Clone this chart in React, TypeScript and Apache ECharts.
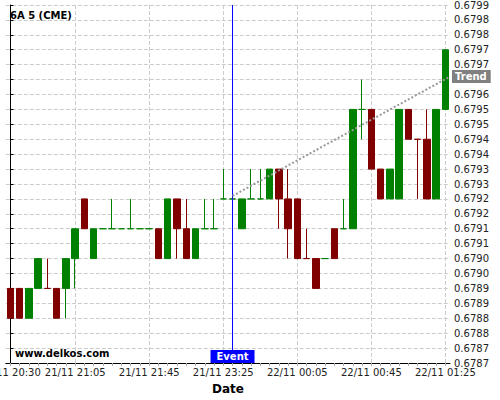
import React, { useEffect, useRef } from "react";
import * as echarts from "echarts";

const categories = [
  "21/11 20:30", "21/11 20:35", "21/11 20:40", "21/11 20:45", "21/11 20:50", "21/11 20:55",
  "21/11 21:00", "21/11 21:05", "21/11 21:10", "21/11 21:15", "21/11 21:20", "21/11 21:25",
  "21/11 21:30", "21/11 21:35", "21/11 21:40", "21/11 21:45", "21/11 21:50", "21/11 21:55",
  "21/11 23:00", "21/11 23:05", "21/11 23:10", "21/11 23:15", "21/11 23:20", "21/11 23:25",
  "21/11 23:30", "21/11 23:35", "21/11 23:40", "21/11 23:45", "21/11 23:50", "21/11 23:55",
  "22/11 00:00", "22/11 00:05", "22/11 00:10", "22/11 00:15", "22/11 00:20", "22/11 00:25",
  "22/11 00:30", "22/11 00:35", "22/11 00:40", "22/11 00:45", "22/11 00:50", "22/11 00:55",
  "22/11 01:00", "22/11 01:05", "22/11 01:10", "22/11 01:15", "22/11 01:20", "22/11 01:25",
];

// [open, close, low, high]
const candles: number[][] = [
  [0.67895, 0.67885, 0.67885, 0.67895],
  [0.67895, 0.67885, 0.67885, 0.67895],
  [0.67885, 0.67895, 0.67885, 0.67895],
  [0.67895, 0.67905, 0.67895, 0.67905],
  [0.67895, 0.67895, 0.67895, 0.67905],
  [0.67895, 0.67885, 0.67885, 0.67895],
  [0.67895, 0.67905, 0.67885, 0.67905],
  [0.67905, 0.67915, 0.67895, 0.67915],
  [0.67925, 0.67915, 0.67915, 0.67925],
  [0.67905, 0.67915, 0.67905, 0.67915],
  [0.67915, 0.67915, 0.67915, 0.67915],
  [0.67915, 0.67915, 0.67915, 0.67925],
  [0.67915, 0.67915, 0.67915, 0.67915],
  [0.67915, 0.67915, 0.67915, 0.67925],
  [0.67915, 0.67915, 0.67915, 0.67915],
  [0.67915, 0.67915, 0.67915, 0.67915],
  [0.67915, 0.67905, 0.67905, 0.67915],
  [0.67905, 0.67925, 0.67905, 0.67925],
  [0.67925, 0.67915, 0.67905, 0.67925],
  [0.67915, 0.67905, 0.67905, 0.67925],
  [0.67905, 0.67915, 0.67905, 0.67915],
  [0.67915, 0.67915, 0.67915, 0.67925],
  [0.67915, 0.67915, 0.67915, 0.67925],
  [0.67925, 0.67925, 0.67925, 0.67935],
  [0.67925, 0.67925, 0.67925, 0.67925],
  [0.67915, 0.67925, 0.67915, 0.67925],
  [0.67925, 0.67925, 0.67925, 0.67935],
  [0.67925, 0.67925, 0.67925, 0.67935],
  [0.67925, 0.67935, 0.67925, 0.67935],
  [0.67935, 0.67925, 0.67915, 0.67935],
  [0.67925, 0.67915, 0.67905, 0.67935],
  [0.67925, 0.67905, 0.67905, 0.67925],
  [0.67905, 0.67905, 0.67905, 0.67915],
  [0.67905, 0.67895, 0.67895, 0.67905],
  [0.67905, 0.67905, 0.67905, 0.67905],
  [0.67915, 0.67905, 0.67905, 0.67915],
  [0.67915, 0.67915, 0.67915, 0.67925],
  [0.67915, 0.67955, 0.67915, 0.67955],
  [0.67955, 0.67955, 0.67945, 0.67965],
  [0.67955, 0.67935, 0.67935, 0.67955],
  [0.67935, 0.67925, 0.67925, 0.67935],
  [0.67925, 0.67935, 0.67925, 0.67935],
  [0.67925, 0.67955, 0.67925, 0.67955],
  [0.67955, 0.67945, 0.67945, 0.67955],
  [0.67945, 0.67945, 0.67925, 0.67945],
  [0.67945, 0.67925, 0.67925, 0.67955],
  [0.67925, 0.67955, 0.67925, 0.67955],
  [0.67955, 0.67975, 0.67955, 0.67975],
];

// doji candles drawn as falling
const dojiDown = [32, 44];

const eventIndex = 24;
// trend line: [category position, price]
const trendPoints: number[][] = [
  [24, 0.67926],
  [47.5, 0.67966],
];

const yMin = 0.6787;
const yMax = 0.6799;
const yStep = 0.00005;

const UP = "#008000";
const DOWN = "#800000";
const BLUE = "#0000ff";
const FONT = "DejaVu Sans";

const labelShown = (i: number) => i === 0 || (i - 7) % 8 === 0;

export default function App() {
  const ref = useRef<HTMLDivElement>(null);
  useEffect(() => {
    if (!ref.current) return;
    const chart = echarts.init(ref.current, null, { renderer: "svg" });
    const data = candles.map((c, i) =>
      dojiDown.includes(i)
        ? { value: c, itemStyle: { color: DOWN, color0: DOWN, borderColor: DOWN, borderColor0: DOWN } }
        : c
    );
    chart.setOption({
      animation: false,
      textStyle: { fontFamily: FONT },
      grid: { left: 5.8, right: 50, top: 5, bottom: 37, containLabel: false, outerBoundsMode: "none" },
      graphic: [
        {
          type: "text",
          left: 10,
          top: 10,
          style: { text: "6A 5 (CME)", font: `bold 10px '${FONT}'`, fill: "#000" },
          z: 10,
        },
        {
          type: "text",
          left: 15,
          top: 348,
          style: { text: "www.delkos.com", font: `bold 10px '${FONT}'`, fill: "#000" },
          z: 10,
        },
      ],
      xAxis: [
        {
          type: "category",
          data: categories,
          boundaryGap: true,
          name: "Date",
          nameLocation: "middle",
          nameGap: 20,
          nameTextStyle: { fontFamily: FONT, fontSize: 12, fontWeight: "bold", color: "#000" },
          axisLine: { lineStyle: { color: "#000", width: 1 } },
          axisTick: { show: true, interval: 0, alignWithLabel: true, length: 3, lineStyle: { color: "#aaa" } },
          axisLabel: {
            interval: (i: number) => labelShown(i),
            fontFamily: FONT,
            fontSize: 10,
            color: "#222",
            margin: 4,
            hideOverlap: false,
          },
          splitLine: {
            show: true,
            interval: (i: number) => labelShown(i),
            alignWithLabel: true,
            lineStyle: { color: "#ccc", type: "dashed", width: 1 },
          },
        },
        {
          type: "value",
          min: -0.5,
          max: categories.length - 0.5,
          show: false,
        },
      ],
      yAxis: {
        type: "value",
        position: "right",
        min: yMin,
        max: yMax,
        interval: yStep,
        scale: true,
        axisLine: { show: true, lineStyle: { color: "#000", width: 1 } },
        axisTick: { show: true, inside: false, length: 3, lineStyle: { color: "#000" } },
        axisLabel: {
          fontFamily: FONT,
          fontSize: 10,
          color: "#222",
          margin: 4,
          formatter: (v: number) => (Math.floor(v * 10000 + 1e-6) / 10000).toFixed(4),
        },
        splitLine: { show: true, lineStyle: { color: "#ccc", type: "dashed", width: 1 } },
      },
      series: [
        {
          type: "candlestick",
          xAxisIndex: 0,
          data,
          barWidth: 7,
          itemStyle: {
            color: UP,
            color0: DOWN,
            borderColor: UP,
            borderColor0: DOWN,
            borderWidth: 1,
          },
          markPoint: {
            silent: true,
            symbol: "rect",
            symbolSize: [44, 13],
            symbolOffset: [0, -6.5],
            itemStyle: { color: BLUE },
            label: {
              show: true,
              position: "inside",
              formatter: "Event",
              color: "#fff",
              fontFamily: FONT,
              fontSize: 10,
              fontWeight: "bold",
            },
            data: [{ coord: [categories[eventIndex], yMin], itemStyle: { color: BLUE } }],
          },
        },
        {
          type: "line",
          name: "event",
          xAxisIndex: 1,
          data: [
            [eventIndex, yMin],
            [eventIndex, yMax],
          ],
          symbol: "none",
          silent: true,
          color: BLUE,
          lineStyle: { color: BLUE, width: 1, type: "solid" },
          z: 4,
        },
        {
          type: "line",
          name: "trend",
          xAxisIndex: 1,
          data: trendPoints,
          symbol: "none",
          silent: true,
          color: "#999",
          lineStyle: { color: "#999", type: "dotted", width: 2 },
          endLabel: {
            show: true,
            formatter: "Trend",
            color: "#fff",
            backgroundColor: "#808080",
            fontFamily: FONT,
            fontSize: 10,
            fontWeight: "bold",
            padding: [2, 4, 1, 3],
            distance: 2,
          },
          z: 5,
        },
      ],
    });
    return () => chart.dispose();
  }, []);
  return (
    <div
      ref={ref}
      style={{ position: "fixed", left: 0, top: 0, width: 500, height: 400, background: "#fff" }}
    />
  );
}
